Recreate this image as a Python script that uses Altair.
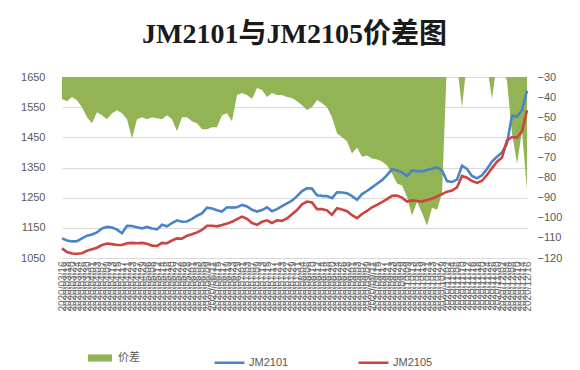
import altair as alt
import pandas as pd

dates = [
    "2020/03/16", "2020/03/18", "2020/03/20", "2020/03/24", "2020/03/26", "2020/03/30",
    "2020/04/01", "2020/04/03", "2020/04/07", "2020/04/09", "2020/04/13", "2020/04/15", "2020/04/17",
    "2020/04/21", "2020/04/23", "2020/04/27", "2020/04/29",
    "2020/05/06", "2020/05/08", "2020/05/12", "2020/05/14", "2020/05/18", "2020/05/20", "2020/05/22",
    "2020/05/26", "2020/05/28",
    "2020/06/01", "2020/06/03", "2020/06/05", "2020/06/09", "2020/06/11", "2020/06/15", "2020/06/17",
    "2020/06/19", "2020/06/23", "2020/06/29",
    "2020/07/01", "2020/07/03", "2020/07/07", "2020/07/09", "2020/07/13", "2020/07/15", "2020/07/17",
    "2020/07/21", "2020/07/23", "2020/07/27", "2020/07/29", "2020/07/31",
    "2020/08/04", "2020/08/06", "2020/08/10", "2020/08/12", "2020/08/14", "2020/08/18", "2020/08/20",
    "2020/08/24", "2020/08/26", "2020/08/28",
    "2020/09/01", "2020/09/03", "2020/09/07", "2020/09/09", "2020/09/11", "2020/09/15", "2020/09/17",
    "2020/09/21", "2020/09/23", "2020/09/25", "2020/09/29",
    "2020/10/09", "2020/10/13", "2020/10/15", "2020/10/19", "2020/10/21", "2020/10/23",
    "2020/10/27", "2020/10/29",
    "2020/11/02", "2020/11/04", "2020/11/06", "2020/11/10", "2020/11/12", "2020/11/16",
    "2020/11/18", "2020/11/20", "2020/11/24", "2020/11/26", "2020/11/30",
    "2020/12/02", "2020/12/04", "2020/12/08", "2020/12/10", "2020/12/14", "2020/12/16",
]

jm2101 = [
    1115, 1108, 1105, 1106, 1115, 1124, 1128, 1135, 1148, 1153,
    1151, 1144, 1132, 1157, 1156, 1152, 1148, 1153, 1148, 1145,
    1160, 1155, 1166, 1175, 1170, 1171, 1180, 1190, 1198, 1217,
    1214, 1208, 1204, 1218, 1217, 1218, 1226, 1221, 1210, 1204,
    1209, 1218, 1205, 1212, 1222, 1231, 1240, 1255, 1272, 1281,
    1280, 1258, 1256, 1255, 1248, 1268, 1267, 1265, 1255, 1243,
    1262, 1272, 1284, 1296, 1308, 1325, 1344, 1340, 1334, 1322,
    1340, 1338, 1337, 1342, 1346, 1350, 1340, 1305, 1302, 1310,
    1356, 1345, 1322, 1314, 1324, 1345, 1370, 1386, 1400, 1430,
    1522, 1519, 1540, 1605,
]

jm2105 = [
    1082, 1070, 1065, 1064, 1066, 1074, 1079, 1084, 1093, 1098,
    1096, 1093, 1093, 1099, 1100, 1099, 1100, 1097, 1091, 1090,
    1100, 1099, 1108, 1115, 1114, 1124, 1129, 1135, 1143, 1157,
    1157, 1155, 1159, 1164, 1170, 1179, 1187, 1180, 1166, 1160,
    1170, 1175, 1166, 1175, 1173, 1181, 1195, 1209, 1228, 1237,
    1234, 1212, 1212, 1208, 1193, 1215, 1211, 1205, 1192, 1182,
    1196, 1206, 1218, 1226, 1235, 1245, 1256, 1257, 1250, 1237,
    1241, 1239, 1237, 1242, 1246, 1254, 1262, 1270, 1274, 1284,
    1322, 1316, 1305, 1299, 1306, 1325, 1348, 1369, 1383, 1440,
    1451, 1449, 1470, 1540,
]

spread = [
    -41, -42, -40, -41.5, -45, -50, -53, -47.5, -49, -51,
    -48, -46.5, -48, -51, -60.5, -51, -50, -51, -50, -50.5,
    -51, -49, -51, -57, -50, -50, -52, -53, -56, -56,
    -55, -55, -49, -48, -52, -39, -38, -39, -41, -35.5,
    -36.5, -40, -38, -39, -39, -40, -40.5, -42, -44, -46.4,
    -45, -41.4, -43, -45, -50, -58, -60, -62, -68, -65,
    -69.6, -69, -70.5, -71, -72, -74, -78, -83, -84, -89.5,
    -99, -92, -97.5, -104, -95, -96, -88, -22, -20, -24,
    -45, -22, -20, -18, -20, -24, -41, -22, -25, -32,
    -58, -73, -57, -86,
]

series_names = ["JM2101", "JM2105"]
spread_name = "价差"
left_ticks = [1050, 1150, 1250, 1350, 1450, 1550, 1650]
right_ticks = [-30, -40, -50, -60, -70, -80, -90, -100, -110, -120]

GREEN = "#93B454"
BLUE = "#4A84C6"
RED = "#CC4440"
TXT = "#595959"
FONT = "Liberation Sans"
CJK = "Noto Sans CJK SC"

spread_df = pd.DataFrame({"date": dates, "spread": spread, "name": spread_name})
lines_df = pd.DataFrame({
    "date": dates * 2,
    "value": jm2101 + jm2105,
    "series": [series_names[0]] * len(dates) + [series_names[1]] * len(dates),
})

x_enc = alt.X(
    "date:O",
    sort=None,
    scale=alt.Scale(type="point", padding=0),
    axis=alt.Axis(
        title=None,
        labelAngle=-90,
        labelFontSize=10,
        labelFont=FONT,
        labelColor="#6A6A6A",
        labelOverlap=False,
        labelPadding=3,
        ticks=False,
        domain=True,
        domainColor="#D9D9D9",
        grid=False,
    ),
)

area = alt.Chart(spread_df).mark_area(clip=True, opacity=1).encode(
    x=x_enc,
    y=alt.Y(
        "spread:Q",
        scale=alt.Scale(domain=[-120, -30], nice=False, zero=False),
        axis=alt.Axis(
            orient="right",
            title=None,
            values=right_ticks,
            format="d",
            labelFontSize=11,
            labelFont=FONT,
            labelColor=TXT,
            ticks=False,
            domain=False,
            grid=False,
            labelPadding=10,
        ),
    ),
    y2=alt.datum(-30),
    fill=alt.Fill(
        "name:N",
        scale=alt.Scale(domain=[spread_name], range=[GREEN]),
        legend=alt.Legend(
            orient="none",
            legendX=26,
            legendY=269,
            title=None,
            symbolType="M-1,-0.3H1V0.3H-1Z",
            symbolSize=576,
            symbolStrokeWidth=0,
            symbolOpacity=1,
            labelFont=CJK,
            labelFontSize=11,
            labelColor=TXT,
            labelOffset=6,
        ),
    ),
)

lines = alt.Chart(lines_df).mark_line(strokeWidth=2.6).encode(
    x=x_enc,
    y=alt.Y(
        "value:Q",
        scale=alt.Scale(domain=[1050, 1650], nice=False, zero=False),
        axis=alt.Axis(
            orient="left",
            title=None,
            values=left_ticks,
            format="d",
            labelFontSize=11,
            labelFont=FONT,
            labelColor=TXT,
            ticks=False,
            domain=False,
            grid=True,
            gridColor="#D9D9D9",
            gridWidth=1,
            labelPadding=17,
        ),
    ),
    stroke=alt.Stroke(
        "series:N",
        scale=alt.Scale(domain=series_names, range=[BLUE, RED]),
        legend=alt.Legend(
            orient="none",
            legendX=151,
            legendY=269,
            direction="horizontal",
            title=None,
            symbolType="stroke",
            symbolSize=900,
            symbolStrokeWidth=2.5,
            labelFont=FONT,
            labelFontSize=11,
            labelColor=TXT,
            labelOffset=3,
            columnPadding=64,
        ),
    ),
)

chart = (
    alt.layer(area, lines)
    .resolve_scale(y="independent", fill="independent", stroke="independent")
    .properties(
        width=465,
        height=181,
        padding={"left": 62, "top": 77, "right": 53, "bottom": 112},
        autosize=alt.AutoSizeParams(type="none"),
        title=alt.TitleParams(
            "JM2101与JM2105价差图",
            font="Liberation Serif, Noto Sans CJK SC",
            fontSize=28,
            fontWeight="bold",
            color="#1A1A1A",
            anchor="middle",
            offset=22,
        ),
        background="white",
    )
    .configure_view(stroke=None)
)

chart.save("out.html", embed_options={"renderer": "svg", "actions": False})
